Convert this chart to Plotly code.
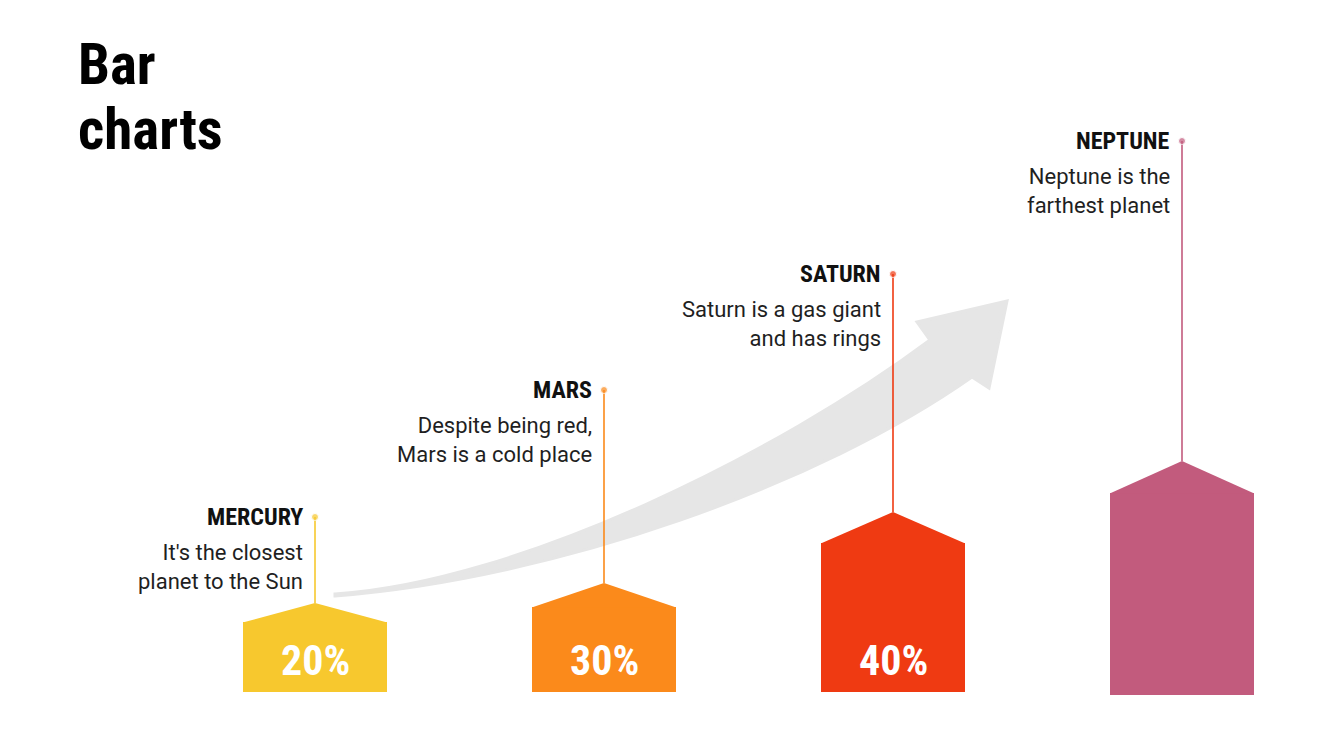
import plotly.graph_objects as go

# chart data
planets = ["MERCURY", "MARS", "SATURN", "NEPTUNE"]
descriptions = ["It's the closest<br>planet to the Sun",
                "Despite being red,<br>Mars is a cold place",
                "Saturn is a gas giant<br>and has rings",
                "Neptune is the<br>farthest planet"]
pct_labels = ["20%", "30%", "40%", ""]
bar_base = [0, 0, 0, -3]
bar_top = [70, 85, 149, 199]      # shoulder of the house shape
roof_peak = [89, 109, 180, 231]   # tip of the roof
dot_height = [175, 302, 418, 551] # end of the stem line
colors = ["#F7C82E", "#FB8A1B", "#EF3A12", "#C25B7D"]

W, H = 1338, 753
OFF = 8                    # page margin of the html body
X0, DX = 315 - OFF, 289    # pixel of first bar centre, spacing between bars
Y0 = 692 - OFF             # pixel of baseline
BAR_W = 0.5

def cond(s):
    # narrow face of the (variable) Roboto font
    return f'<span style="font-stretch:condensed">{s}</span>'

def px(x, y):
    # screen pixel -> data coords (only used for the background arrow)
    return (x - OFF - X0) / DX, Y0 - (y - OFF)

xs = list(range(len(planets)))

fig = go.Figure()

fig.add_trace(go.Bar(x=xs, y=[t - b for t, b in zip(bar_top, bar_base)], base=bar_base,
                     width=BAR_W, marker=dict(color=colors, line=dict(width=0)),
                     hoverinfo="skip", showlegend=False))

for i in xs:
    fig.add_trace(go.Scatter(
        x=[i - BAR_W / 2, i, i + BAR_W / 2, i - BAR_W / 2],
        y=[bar_top[i] - 0.5, roof_peak[i], bar_top[i] - 0.5, bar_top[i] - 0.5],
        fill="toself", fillcolor=colors[i], mode="lines", line=dict(width=0),
        hoverinfo="skip", showlegend=False))
    fig.add_trace(go.Scatter(
        x=[i, i], y=[roof_peak[i], dot_height[i]], mode="lines+markers",
        line=dict(color=colors[i], width=1.6),
        marker=dict(size=[0, 7], color=colors[i]),
        hoverinfo="skip", showlegend=False))
    fig.add_annotation(x=i, y=dot_height[i], text=cond(planets[i]), showarrow=False,
                       xanchor="right", yanchor="middle", xshift=-10,
                       font=dict(family="Roboto", size=24, color="#111111", weight=700))
    fig.add_annotation(x=i, y=dot_height[i], text=descriptions[i], showarrow=False,
                       xanchor="right", yanchor="top", align="right", xshift=-10, yshift=-21,
                       font=dict(family="Roboto", size=22, color="#1f1f1f"))
    if pct_labels[i]:
        fig.add_annotation(x=i, y=32, text=cond(pct_labels[i]), showarrow=False,
                           font=dict(family="Roboto", size=42, color="white", weight=700))

def pt(x, y):
    a, b = px(x, y)
    return f"{a:.4f},{b:.2f}"

arrow = ("M " + pt(335, 594) +
         " C " + pt(520, 582) + " " + pt(780, 452) + " " + pt(930, 340) +
         " L " + pt(917, 322) + " L " + pt(1007, 301) + " L " + pt(989, 388) +
         " L " + pt(972, 377) +
         " C " + pt(820, 484) + " " + pt(560, 578) + " " + pt(335, 596) + " Z")
fig.add_shape(type="path", path=arrow, xref="x", yref="y", layer="below",
              fillcolor="#E6E6E6", line=dict(color="#E6E6E6", width=3))

title_font = dict(family="Roboto", size=57, color="black", weight=700)
fig.add_annotation(text=cond("Bar"), xref="paper", yref="paper",
                   x=(76 - OFF) / W, y=1 - (64 - OFF) / H, xanchor="left", yanchor="middle",
                   showarrow=False, font=title_font)
fig.add_annotation(text=cond("charts"), xref="paper", yref="paper",
                   x=(76 - OFF) / W, y=1 - (130 - OFF) / H, xanchor="left", yanchor="middle",
                   showarrow=False, font=title_font)

fig.update_xaxes(range=[-X0 / DX, (W - X0) / DX], visible=False, fixedrange=True)
fig.update_yaxes(range=[Y0 - H, Y0], visible=False, fixedrange=True)
fig.update_layout(width=W, height=H, margin=dict(l=0, r=0, t=0, b=0),
                  plot_bgcolor="white", paper_bgcolor="white", bargap=0)

fig.write_html("out.html")
